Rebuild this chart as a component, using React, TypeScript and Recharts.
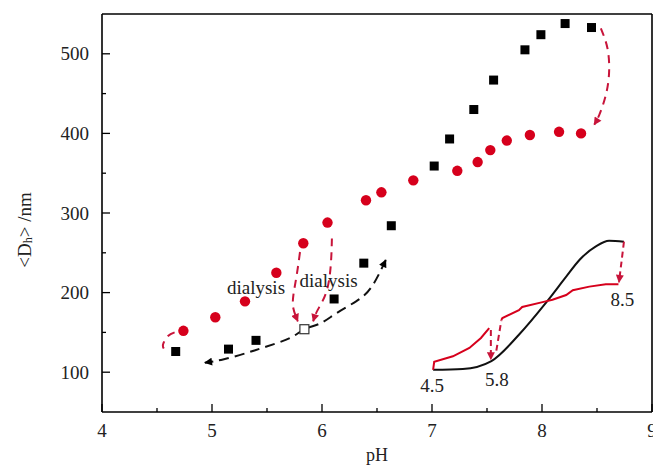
import {
  ComposedChart,
  Scatter,
  XAxis,
  YAxis,
  ReferenceLine,
} from "recharts";

const FONT = "'Times New Roman', 'Liberation Serif', serif";
const RED = "#d6001c";
const DASH_RED = "#c8143a";

const xTicks = [4, 4.5, 5, 5.5, 6, 6.5, 7, 7.5, 8, 8.5, 9];
const yTicks = [100, 150, 200, 250, 300, 350, 400, 450, 500];

// <Dh> of the black squares
const squares = [
  { x: 4.67, y: 126 },
  { x: 5.15, y: 129 },
  { x: 5.4, y: 140 },
  { x: 6.11, y: 192 },
  { x: 6.38, y: 237 },
  { x: 6.63, y: 284 },
  { x: 7.02, y: 359 },
  { x: 7.16, y: 393 },
  { x: 7.38, y: 430 },
  { x: 7.56, y: 467 },
  { x: 7.845, y: 505 },
  { x: 7.99, y: 524 },
  { x: 8.21, y: 538 },
  { x: 8.45, y: 533 },
];

const circles = [
  { x: 4.74, y: 152 },
  { x: 5.03, y: 169 },
  { x: 5.3, y: 189 },
  { x: 5.585, y: 225 },
  { x: 5.83, y: 262 },
  { x: 6.05, y: 288 },
  { x: 6.4, y: 316 },
  { x: 6.54, y: 326 },
  { x: 6.83, y: 341 },
  { x: 7.23, y: 353 },
  { x: 7.415, y: 364 },
  { x: 7.53, y: 379 },
  { x: 7.68, y: 391 },
  { x: 7.89, y: 398 },
  { x: 8.155, y: 402 },
  { x: 8.355, y: 400 },
];

const openSquare = [{ x: 5.84, y: 154 }];

// dashed guide curves
const blackDash = [
  { x: 6.58, y: 241 },
  { x: 6.45, y: 207 },
  { x: 6.31, y: 189 },
  { x: 6.13, y: 174 },
  { x: 5.98, y: 161 },
  { x: 5.84, y: 154 },
  { x: 5.71, y: 143 },
  { x: 5.49, y: 132 },
  { x: 5.31, y: 124 },
  { x: 5.1, y: 116 },
  { x: 4.935, y: 112 },
];

const redLeftArc = [
  { x: 4.66, y: 150 },
  { x: 4.6, y: 145.5 },
  { x: 4.56, y: 137 },
  { x: 4.555, y: 131.5 },
  { x: 4.59, y: 124 },
];

const dialysisLeft = [
  { x: 5.8, y: 251 },
  { x: 5.77, y: 222 },
  { x: 5.74, y: 197 },
  { x: 5.74, y: 180 },
  { x: 5.78, y: 164 },
];

const dialysisRight = [
  { x: 6.09, y: 268 },
  { x: 6.08, y: 235 },
  { x: 6.04, y: 201 },
  { x: 5.96, y: 178 },
  { x: 5.92, y: 164 },
];

const redRightArc = [
  { x: 8.535, y: 532 },
  { x: 8.595, y: 507 },
  { x: 8.61, y: 477 },
  { x: 8.58, y: 448 },
  { x: 8.52, y: 423 },
  { x: 8.475, y: 411 },
];

// small inset: titration cycle 4.5 -> 5.8 -> 8.5
const insetBlack = [
  { x: 7.01, y: 103 },
  { x: 7.28, y: 104 },
  { x: 7.54, y: 114 },
  { x: 7.79, y: 147 },
  { x: 8.035, y: 187 },
  { x: 8.22, y: 220 },
  { x: 8.34, y: 241 },
  { x: 8.49, y: 258 },
  { x: 8.61, y: 265 },
  { x: 8.745, y: 264 },
];

const insetRedLow = [
  { x: 7.01, y: 103 },
  { x: 7.02, y: 113 },
  { x: 7.19, y: 120 },
  { x: 7.34, y: 130.5 },
  { x: 7.445, y: 143 },
  { x: 7.52, y: 155.5 },
];

const insetRedHigh = [
  { x: 8.695, y: 210.5 },
  { x: 8.58, y: 210.5 },
  { x: 8.43, y: 207.5 },
  { x: 8.28, y: 203 },
  { x: 8.22, y: 197 },
  { x: 8.095, y: 191 },
  { x: 8.005, y: 188 },
  { x: 7.82, y: 182 },
  { x: 7.79, y: 178 },
  { x: 7.64, y: 168 },
  { x: 7.63, y: 165.5 },
];

const insetDrop58 = [
  { x: 7.535, y: 153 },
  { x: 7.535, y: 116 },
];
const insetRise58 = [
  { x: 7.585, y: 127 },
  { x: 7.63, y: 165 },
];
const insetDrop85 = [
  { x: 8.745, y: 264 },
  { x: 8.7, y: 213 },
];

const labels = [
  { x: 5.4, y: 206, text: "dialysis" },
  { x: 6.06, y: 215, text: "dialysis" },
  { x: 7.0, y: 83, text: "4.5" },
  { x: 7.59, y: 91, text: "5.8" },
  { x: 8.73, y: 191, text: "8.5" },
];

const Square = (p: any) => (
  <rect x={p.cx - 4.5} y={p.cy - 4.5} width={9} height={9} fill="#000" />
);
const OpenSquare = (p: any) => (
  <rect x={p.cx - 4.5} y={p.cy - 4.5} width={9} height={9} fill="#fff" stroke="#333" strokeWidth={1.2} />
);
const Dot = (p: any) => <circle cx={p.cx} cy={p.cy} r={5.2} fill={RED} />;
const NoDot = () => <g />;
const TextMark = (p: any) => (
  <text
    x={p.cx}
    y={p.cy}
    textAnchor="middle"
    dominantBaseline="central"
    fontFamily={FONT}
    fontSize={19}
    fill="#222"
  >
    {p.payload.text}
  </text>
);

const XTick = ({ x, y, payload }: any) => {
  const major = Number.isInteger(payload.value);
  return (
    <g>
      <line x1={x} x2={x} y1={y} y2={y - (major ? 8 : 4)} stroke="#000" strokeWidth={1.3} />
      {major && (
        <text x={x} y={y + 12} dy="0.71em" textAnchor="middle" fontFamily={FONT} fontSize={19} fill="#222">
          {payload.value}
        </text>
      )}
    </g>
  );
};

const YTick = ({ x, y, payload }: any) => {
  const major = payload.value % 100 === 0;
  return (
    <g>
      <line x1={x} x2={x + (major ? 8 : 4)} y1={y} y2={y} stroke="#000" strokeWidth={1.3} />
      {major && (
        <text x={x - 13} y={y} dy="0.35em" textAnchor="end" fontFamily={FONT} fontSize={19} fill="#222">
          {payload.value}
        </text>
      )}
    </g>
  );
};

const YLabel = ({ viewBox }: any) => {
  const cx = viewBox.x + 24;
  const cy = viewBox.y + viewBox.height / 2 + 17;
  return (
    <text
      x={cx}
      y={cy}
      transform={`rotate(-90 ${cx} ${cy})`}
      textAnchor="middle"
      dominantBaseline="central"
      fontFamily={FONT}
      fontSize={19}
      fill="#222"
    >
      {"<D"}
      <tspan dy={4} fontSize={12}>h</tspan>
      <tspan dy={-4}>{"> /nm"}</tspan>
    </text>
  );
};

const XLabel = ({ viewBox }: any) => (
  <text
    x={viewBox.x + viewBox.width / 2}
    y={viewBox.y + 43}
    textAnchor="middle"
    dominantBaseline="central"
    fontFamily={FONT}
    fontSize={18}
    fill="#222"
  >
    pH
  </text>
);

const dashLine = (color: string, extra: any = {}) => ({
  stroke: color,
  strokeWidth: 2,
  strokeDasharray: "8 6",
  fill: "none",
  ...extra,
});

const solidLine = (color: string) => ({
  stroke: color,
  strokeWidth: 2,
  fill: "none",
});

export default function App() {
  return (
    <div style={{ position: "absolute", left: 0, top: 0, background: "#fff" }}>
      <svg width={0} height={0} style={{ position: "absolute" }}>
        <defs>
          <marker id="arrRed" viewBox="0 0 10 10" refX="9" refY="5" markerWidth="9" markerHeight="8" markerUnits="userSpaceOnUse" orient="auto">
            <path d="M0,0 L10,5 L0,10 z" fill={DASH_RED} />
          </marker>
          <marker id="arrBlack" viewBox="0 0 10 10" refX="9" refY="5" markerWidth="9" markerHeight="8" markerUnits="userSpaceOnUse" orient="auto-start-reverse">
            <path d="M0,0 L10,5 L0,10 z" fill="#000" />
          </marker>
        </defs>
      </svg>
      <ComposedChart
        width={653}
        height={466}
        margin={{ top: 14, right: 1, bottom: 0, left: 0 }}
      >
        <XAxis
          type="number"
          dataKey="x"
          domain={[4, 9]}
          ticks={xTicks}
          interval={0}
          allowDataOverflow
          height={54}
          tickLine={false}
          tickSize={0}
          tickMargin={0}
          tick={<XTick />}
          axisLine={{ stroke: "#000", strokeWidth: 1.6 }}
          label={<XLabel />}
        />
        <YAxis
          type="number"
          dataKey="y"
          domain={[50, 550]}
          ticks={yTicks}
          interval={0}
          allowDataOverflow
          width={102}
          tickLine={false}
          tickSize={0}
          tickMargin={0}
          tick={<YTick />}
          axisLine={{ stroke: "#000", strokeWidth: 1.6 }}
          label={<YLabel />}
        />
        <ReferenceLine y={550} stroke="#000" strokeWidth={1.6} />
        <ReferenceLine x={9} stroke="#000" strokeWidth={1.6} />

        <Scatter data={blackDash} shape={NoDot} line={dashLine("#111", { markerStart: "url(#arrBlack)", markerEnd: "url(#arrBlack)", strokeDasharray: "10 6" })} lineJointType="natural" isAnimationActive={false} />
        <Scatter data={redLeftArc} shape={NoDot} line={dashLine(DASH_RED)} lineJointType="natural" isAnimationActive={false} />
        <Scatter data={dialysisLeft} shape={NoDot} line={dashLine(DASH_RED, { markerEnd: "url(#arrRed)" })} lineJointType="natural" isAnimationActive={false} />
        <Scatter data={dialysisRight} shape={NoDot} line={dashLine(DASH_RED, { markerEnd: "url(#arrRed)" })} lineJointType="natural" isAnimationActive={false} />
        <Scatter data={redRightArc} shape={NoDot} line={dashLine(DASH_RED, { markerEnd: "url(#arrRed)" })} lineJointType="natural" isAnimationActive={false} />

        <Scatter data={insetBlack} shape={NoDot} line={solidLine("#111")} lineJointType="monotoneX" isAnimationActive={false} />
        <Scatter data={insetRedLow} shape={NoDot} line={solidLine(RED)} lineJointType="linear" isAnimationActive={false} />
        <Scatter data={insetRedHigh} shape={NoDot} line={solidLine(RED)} lineJointType="linear" isAnimationActive={false} />
        <Scatter data={insetDrop58} shape={NoDot} line={dashLine(DASH_RED, { markerEnd: "url(#arrRed)", strokeDasharray: "6 4" })} isAnimationActive={false} />
        <Scatter data={insetRise58} shape={NoDot} line={dashLine(DASH_RED, { strokeDasharray: "6 4" })} isAnimationActive={false} />
        <Scatter data={insetDrop85} shape={NoDot} line={dashLine(DASH_RED, { markerEnd: "url(#arrRed)", strokeDasharray: "6 4" })} isAnimationActive={false} />

        <Scatter data={squares} shape={Square} isAnimationActive={false} />
        <Scatter data={circles} shape={Dot} isAnimationActive={false} />
        <Scatter data={openSquare} shape={OpenSquare} isAnimationActive={false} />
        <Scatter data={labels} shape={TextMark} isAnimationActive={false} />
      </ComposedChart>
    </div>
  );
}
